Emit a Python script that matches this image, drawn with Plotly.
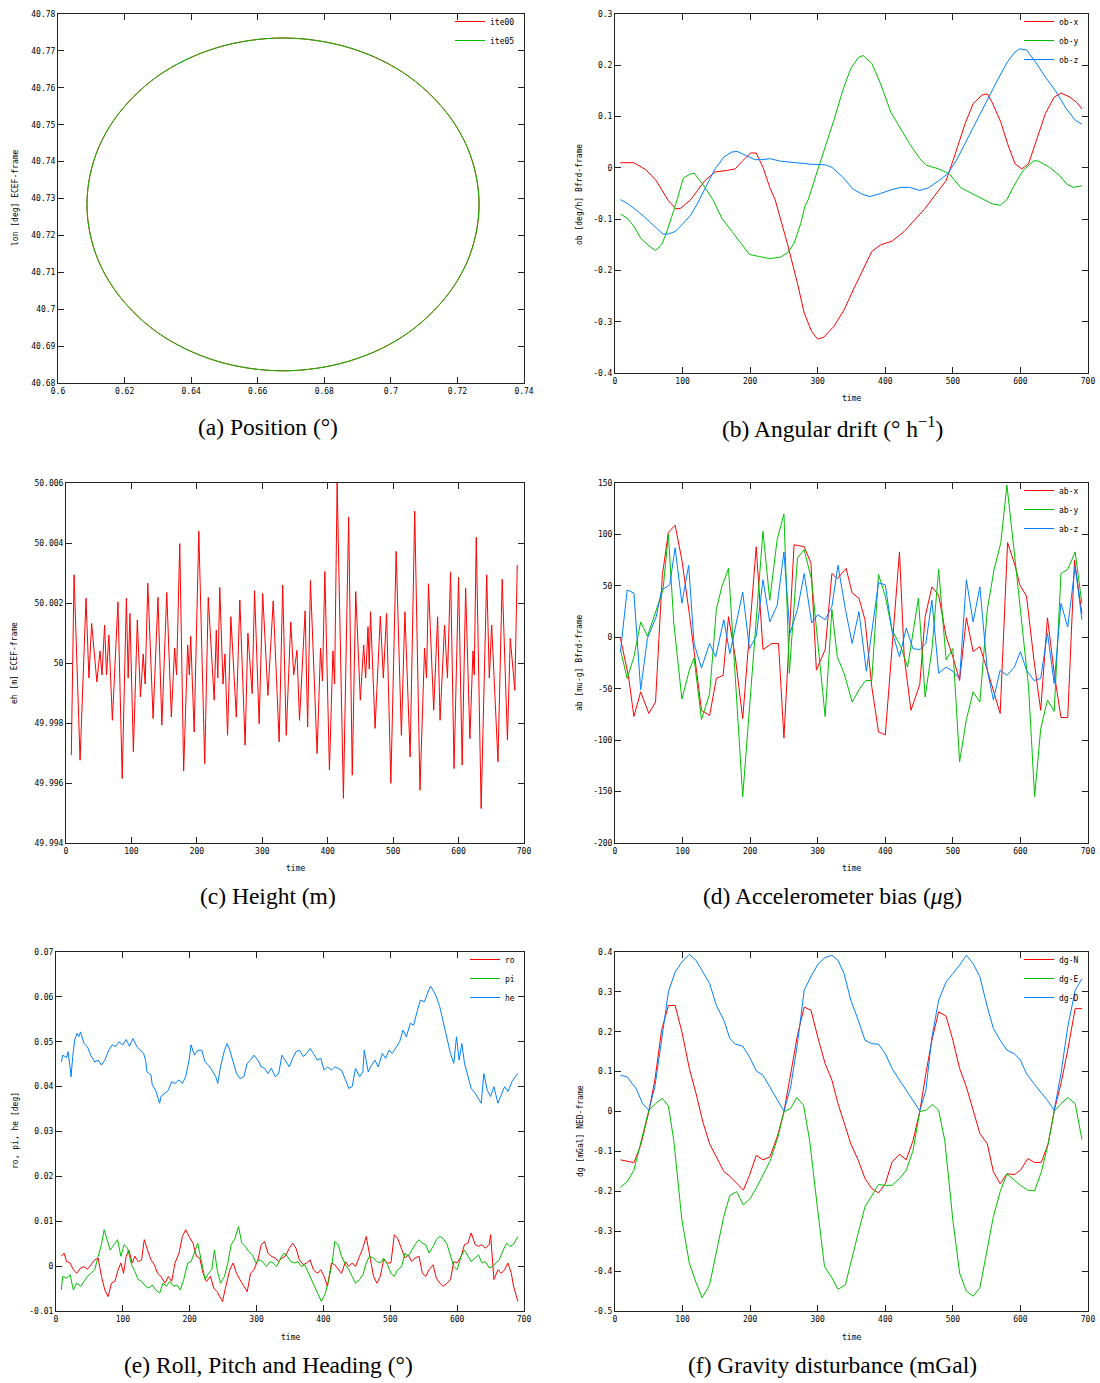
import plotly.graph_objects as go

W, H = 1100, 1383
RED, GREEN, BLUE = "#ff0000", "#00c000", "#0080ff"
MONO = "DejaVu Sans Mono"
SERIF = "Liberation Serif"

# ---------------- (a) Position ----------------
POS_X = [0.7265, 0.7256, 0.7230, 0.7186, 0.7127, 0.7055, 0.6971, 0.6877, 0.6778, 0.6676,
         0.6574, 0.6475, 0.6382, 0.6297, 0.6225, 0.6166, 0.6122, 0.6096, 0.6087, 0.6096,
         0.6122, 0.6166, 0.6225, 0.6297, 0.6382, 0.6475, 0.6574, 0.6676, 0.6778, 0.6877,
         0.6971, 0.7055, 0.7127, 0.7186, 0.7230, 0.7256, 0.7265]
POS_Y = [40.7284, 40.7362, 40.7438, 40.7510, 40.7574, 40.7630, 40.7675, 40.7708, 40.7728, 40.7735,
         40.7728, 40.7708, 40.7675, 40.7630, 40.7574, 40.7510, 40.7438, 40.7362, 40.7284, 40.7206,
         40.7130, 40.7058, 40.6994, 40.6938, 40.6893, 40.6860, 40.6840, 40.6833, 40.6840, 40.6860,
         40.6893, 40.6938, 40.6994, 40.7058, 40.7130, 40.7206, 40.7284]
POS_XTICKS = [0.6, 0.62, 0.64, 0.66, 0.68, 0.7, 0.72, 0.74]
POS_XLABELS = ["0.6", "0.62", "0.64", "0.66", "0.68", "0.7", "0.72", "0.74"]
POS_YTICKS = [40.68, 40.69, 40.70, 40.71, 40.72, 40.73, 40.74, 40.75, 40.76, 40.77, 40.78]
POS_YLABELS = ["40.68", "40.69", "40.7", "40.71", "40.72", "40.73", "40.74", "40.75", "40.76", "40.77", "40.78"]

# ---------------- common time ticks ----------------
TIME_TICKS = [0, 100, 200, 300, 400, 500, 600, 700]
TIME_LABELS = ["0", "100", "200", "300", "400", "500", "600", "700"]

# ---------------- (b) Angular drift ----------------
OBX_T = [8, 28, 46, 61, 79, 90, 97, 112, 133, 148, 166, 178, 189, 201, 209, 219, 229, 237, 255, 270,
         280, 291, 300, 309, 324, 339, 354, 367, 380, 393, 410, 428, 444, 459, 472, 490, 502, 518, 530, 543,
         551, 558, 571, 581, 592, 602, 612, 622, 637, 650, 660, 673, 683, 691]
OBX = [0.010, 0.010, -0.004, -0.025, -0.064, -0.080, -0.079, -0.062, -0.025, -0.008,
       -0.005, -0.002, 0.014, 0.029, 0.029, 0.001, -0.038, -0.062, -0.147, -0.225,
       -0.283, -0.319, -0.334, -0.330, -0.309, -0.277, -0.234, -0.199, -0.163, -0.150,
       -0.143, -0.124, -0.101, -0.079, -0.056, -0.025, 0.021, 0.086, 0.125, 0.142,
       0.144, 0.128, 0.089, 0.047, 0.008, -0.002, 0.008, 0.047, 0.106, 0.138,
       0.146, 0.138, 0.128, 0.115]
OBY_T = [8, 18, 28, 38, 51, 60, 69, 76, 84, 92, 101, 110, 117, 133, 145, 158, 173, 186, 199, 214,
         229, 245, 255, 265, 275, 281, 286, 298, 311, 324, 337, 349, 360, 367, 380, 393, 408, 423, 436, 451,
         461, 479, 495, 512, 530, 546, 558, 570, 580, 592, 604, 620, 627, 643, 658, 668, 678, 691]
OBY = [-0.090, -0.098, -0.114, -0.137, -0.153, -0.161, -0.150, -0.127, -0.095, -0.062,
       -0.020, -0.013, -0.010, -0.038, -0.062, -0.098, -0.124, -0.147, -0.169, -0.173,
       -0.177, -0.174, -0.166, -0.147, -0.108, -0.075, -0.062, -0.012, 0.040, 0.093,
       0.151, 0.194, 0.215, 0.219, 0.204, 0.164, 0.109, 0.076, 0.047, 0.018,
       0.005, -0.002, -0.012, -0.039, -0.051, -0.062, -0.070, -0.073, -0.062, -0.031,
       -0.005, 0.014, 0.013, 0.001, -0.015, -0.031, -0.038, -0.035]
OBZ_T = [8, 18, 31, 43, 56, 71, 79, 89, 99, 112, 121, 135, 148, 161, 173, 181, 194, 207, 219, 229,
         245, 260, 275, 291, 311, 321, 337, 352, 365, 377, 393, 408, 423, 436, 451, 464, 479, 492, 505, 520,
         535, 551, 566, 581, 592, 599, 609, 622, 637, 653, 668, 681, 691]
OBZ = [-0.062, -0.069, -0.082, -0.095, -0.111, -0.129, -0.129, -0.124, -0.111, -0.092,
       -0.072, -0.035, -0.002, 0.021, 0.031, 0.032, 0.024, 0.016, 0.016, 0.018,
       0.013, 0.011, 0.010, 0.007, 0.006, 0.001, -0.018, -0.041, -0.051, -0.056,
       -0.050, -0.043, -0.038, -0.038, -0.044, -0.039, -0.025, -0.012, 0.014, 0.053,
       0.093, 0.132, 0.171, 0.207, 0.226, 0.232, 0.230, 0.207, 0.177, 0.148,
       0.115, 0.093, 0.085]
OB_TICKS = [-0.4, -0.3, -0.2, -0.1, 0, 0.1, 0.2, 0.3]
OB_LABELS = ["-0.4", "-0.3", "-0.2", "-0.1", "0", "0.1", "0.2", "0.3"]

# ---------------- (c) Height ----------------
EH_T = [8.1, 12.3, 21.5, 30.6, 35.0, 39.2, 47.2, 52.0, 55.0, 59.0,
        62.0, 65.5, 70.9, 79.4, 85.9, 92.3, 95.0, 97.7, 103.0, 109.0,
        113.8, 118.0, 121.0, 125.0, 133.1, 140.6, 146.5, 154.0, 161.0, 166.0,
        169.0, 173.9, 179.8, 186.0, 188.5, 190.6, 195.9, 203.0, 212.0, 217.4,
        226.5, 229.7, 232.0, 235.0, 240.0, 243.0, 246.9, 252.0, 260.3, 265.7,
        273.8, 278.0, 284.5, 288.2, 295.2, 300.6, 308.6, 316.7, 325.8, 331.2,
        336.6, 343.5, 348.0, 353.0, 356.9, 365.5, 369.3, 373.6, 383.8, 389.0,
        392.0, 395.6, 402.6, 408.0, 410.5, 414.4, 424.0, 432.0, 437.5, 442.8,
        449.8, 455.0, 458.0, 461.6, 463.5, 465.4, 472.4, 480.4, 485.0, 490.0,
        496.5, 504.6, 512.6, 518.0, 526.0, 533.0, 541.0, 548.0, 551.0, 554.0,
        562.0, 568.0, 571.7, 578.6, 583.0, 587.8, 593.1, 600.0, 605.5, 610.8,
        617.3, 622.0, 624.0, 627.0, 634.5, 643.0, 647.0, 650.6, 660.2, 666.7,
        674.7, 679.0, 686.0, 689.7]
EH = [49.99693, 50.00294, 49.99676, 50.00216, 49.99950, 50.00132, 49.99937, 50.00040, 49.99960, 50.00126,
      49.99960, 50.00093, 49.99809, 50.00204, 49.99615, 50.00216, 49.99950, 50.00165, 49.99704, 50.00143,
      49.99887, 50.00030, 49.99930, 50.00266, 49.99815, 50.00219, 49.99793, 50.00235, 49.99820, 50.00050,
      49.99960, 50.00398, 49.99640, 50.00060, 49.99960, 50.00089, 49.99770, 50.00439, 49.99665, 50.00219,
      49.99876, 50.00109, 49.99950, 50.00252, 49.99930, 50.00030, 49.99759, 50.00154, 49.99820, 50.00210,
      49.99726, 50.00100, 49.99898, 50.00241, 49.99798, 50.00232, 49.99892, 50.00207, 49.99737, 50.00260,
      49.99759, 50.00137, 49.99960, 50.00042, 49.99809, 50.00174, 49.99787, 50.00275, 49.99698, 50.00050,
      49.99940, 50.00305, 49.99643, 50.00040, 49.99930, 50.00600, 49.99549, 50.00487, 49.99626, 50.00238,
      49.99876, 50.00060, 49.99950, 50.00121, 49.99980, 50.00171, 49.99782, 50.00156, 49.99950, 50.00165,
      49.99599, 50.00372, 49.99759, 50.00171, 49.99687, 50.00506, 49.99576, 50.00050, 49.99950, 50.00264,
      49.99843, 50.00154, 49.99809, 50.00126, 49.99950, 50.00302, 49.99648, 50.00286, 49.99660, 50.00249,
      49.99748, 50.00040, 49.99960, 50.00419, 49.99515, 50.00294, 49.99950, 50.00126, 49.99671, 50.00279,
      49.99743, 50.00082, 49.99909, 50.00327]
EH_TICKS = [49.994, 49.996, 49.998, 50.0, 50.002, 50.004, 50.006]
EH_LABELS = ["49.994", "49.996", "49.998", "50", "50.002", "50.004", "50.006"]

# ---------------- (d) Accelerometer bias ----------------
ABX_T = [8, 20, 28, 38, 50, 60, 70, 79, 89, 99, 110, 128, 140, 150, 160, 168, 178, 189, 209, 219,
         232, 242, 250, 265, 280, 290, 298, 311, 321, 329, 342, 351, 361, 370, 380, 390, 400, 421, 428, 438,
         451, 459, 469, 479, 490, 500, 510, 520, 530, 540, 551, 560, 570, 581, 592, 599, 609, 620, 630, 640,
         650, 660, 670, 680, 691]
ABX = [-1, -38, -77, -53, -74, -63, 60, 102, 109, 75, 23, -71, -76, -40, -37, 20, -19, -79, 88, -12,
       -6, -6, -98, 90, 88, 72, -32, -12, 62, 57, 67, 43, 38, 17, -48, -92, -95, 83, -19, -71,
       -46, 20, 49, 41, 1, -19, -42, 19, -14, -9, -32, -53, -74, 92, 70, 51, 40, -22, -71, 19,
       -35, -78, -78, 75, 23]
ABY_T = [8, 18, 28, 38, 48, 61, 71, 79, 87, 99, 110, 117, 128, 140, 150, 158, 168, 189, 199, 219,
         229, 240, 250, 258, 270, 280, 291, 311, 321, 329, 339, 351, 362, 371, 380, 390, 400, 410, 423, 433,
         449, 459, 469, 479, 490, 500, 510, 520, 530, 540, 551, 561, 571, 580, 591, 600, 612, 621, 630, 640,
         650, 660, 670, 681, 691]
ABY = [-12, -40, -19, 15, 1, 27, 46, 100, 14, -60, -32, -20, -80, -55, 27, 49, 67, -155, -67, 103,
       36, 95, 120, -35, 77, 85, 56, -77, 27, -19, -35, -63, -50, -42, -42, 61, 40, 7, -9, -29,
       38, -58, -12, 66, -22, -11, -121, -80, -53, -63, 27, 66, 92, 148, 82, 27, -48, -155, -89, -61,
       -72, 62, 66, 83, 33]
ABZ_T = [8, 18, 28, 38, 48, 61, 69, 81, 89, 99, 109, 117, 128, 140, 149, 161, 170, 189, 199, 209,
         219, 229, 240, 250, 259, 270, 280, 291, 300, 311, 321, 330, 341, 351, 361, 372, 390, 400, 410, 421,
         431, 441, 451, 460, 469, 479, 490, 500, 510, 520, 530, 540, 551, 560, 570, 580, 591, 600, 609, 620,
         630, 640, 650, 660, 670, 681, 691]
ABZ = [-14, 46, 43, -51, -1, 20, 46, 51, 87, 33, 70, -6, -30, -6, -19, 17, -16, 44, -11, 1,
       56, 15, 31, 83, 4, 27, 62, 14, 22, 17, 30, 70, 27, -6, 25, -33, 53, 51, 6, -19,
       9, -11, -12, -6, 36, -35, -29, -33, -40, 56, 15, 49, -32, -61, -32, -37, -29, -14, -32, -42,
       -40, 4, -45, 33, 10, 69, 17]
AB_TICKS = [-200, -150, -100, -50, 0, 50, 100, 150]
AB_LABELS = ["-200", "-150", "-100", "-50", "0", "50", "100", "150"]

# ---------------- (e) Roll, pitch, heading ----------------
RO_T = [8, 12, 16, 21, 26, 31, 37, 42, 47, 52, 58, 63, 68, 73, 78, 83, 88, 93, 97, 101,
        105, 109, 114, 118, 123, 128, 132, 136, 142, 147, 152, 157, 163, 168, 173, 178, 184, 189, 194, 199,
        205, 210, 215, 220, 225, 231, 236, 241, 249, 254, 260, 265, 270, 275, 281, 286, 291, 296, 302, 307,
        312, 317, 322, 328, 333, 338, 343, 349, 354, 359, 364, 370, 375, 380, 385, 391, 396, 401, 406, 412,
        417, 422, 427, 433, 438, 443, 448, 454, 459, 464, 469, 475, 480, 485, 490, 496, 501, 506, 511, 517,
        522, 527, 532, 537, 543, 548, 553, 558, 564, 569, 574, 579, 585, 590, 595, 600, 606, 611, 616, 621,
        627, 632, 637, 642, 648, 650, 655, 661, 666, 671, 676, 681, 684, 688, 691]
RO = [0.0022, 0.0029, 0.0010, 0.0007, -0.0008, -0.0016, -0.0004, -0.0001, -0.0007, 0.0003,
      0.0014, 0.0018, -0.0023, -0.0053, -0.0068, -0.0038, -0.0034, -0.0008, 0.0007, -0.0016,
      0.0022, 0.0036, 0.0007, 0.0022, 0.0010, 0.0014, 0.0059, 0.0040, 0.0014, 0.0003,
      -0.0016, -0.0023, -0.0038, -0.0023, -0.0034, 0.0007, 0.0029, 0.0066, 0.0081, 0.0066,
      0.0051, 0.0022, 0.0018, -0.0016, -0.0034, -0.0023, -0.0049, -0.0057, -0.0079, -0.0045,
      -0.0008, 0.0007, -0.0016, -0.0030, -0.0045, -0.0057, -0.0016, -0.0008, 0.0014, 0.0048,
      0.0055, 0.0029, 0.0022, 0.0018, 0.0010, 0.0018, 0.0022, 0.0040, 0.0051, 0.0040,
      0.0014, 0.0003, 0.0007, 0.0014, -0.0008, -0.0016, -0.0008, -0.0023, -0.0045, 0.0007,
      0.0003, -0.0008, -0.0016, 0.0010, -0.0001, 0.0007, -0.0001, 0.0022, 0.0040, 0.0066,
      0.0029, -0.0023, -0.0038, -0.0023, 0.0014, 0.0007, 0.0007, 0.0070, 0.0062, 0.0036,
      0.0018, 0.0025, 0.0010, 0.0018, 0.0022, -0.0016, -0.0023, -0.0008, 0.0003, -0.0027,
      -0.0038, -0.0045, -0.0038, -0.0030, 0.0010, 0.0007, 0.0022, 0.0048, 0.0051, 0.0074,
      0.0048, 0.0044, 0.0048, 0.0040, 0.0048, 0.0070, -0.0030, -0.0008, -0.0016, -0.0008,
      0.0007, -0.0016, -0.0042, -0.0064, -0.0079]
PI_T = [8, 10, 16, 21, 26, 31, 37, 42, 47, 52, 58, 63, 68, 72, 76, 81, 87, 92, 97, 102,
        107, 113, 118, 123, 128, 134, 139, 144, 149, 155, 160, 165, 170, 176, 181, 186, 191, 197, 202, 207,
        212, 218, 223, 228, 233, 237, 241, 246, 252, 257, 262, 267, 273, 278, 283, 288, 294, 299, 304, 309,
        315, 320, 325, 330, 336, 341, 346, 351, 357, 362, 367, 372, 378, 383, 388, 393, 397, 403, 408, 413,
        417, 422, 427, 433, 438, 443, 448, 454, 459, 464, 469, 475, 480, 485, 490, 496, 501, 506, 511, 517,
        522, 527, 532, 537, 543, 548, 553, 558, 564, 569, 574, 579, 585, 590, 595, 600, 606, 611, 616, 621,
        627, 632, 637, 642, 648, 653, 658, 663, 669, 674, 679, 684, 691]
PI = [-0.0053, -0.0023, -0.0027, -0.0019, -0.0053, -0.0038, -0.0045, -0.0034, -0.0023, -0.0016,
      -0.0008, 0.0022, 0.0048, 0.0081, 0.0059, 0.0036, 0.0048, 0.0059, 0.0022, 0.0048,
      0.0040, 0.0003, -0.0012, -0.0030, -0.0034, -0.0045, -0.0049, -0.0042, -0.0053, -0.0060,
      -0.0038, -0.0045, -0.0034, -0.0045, -0.0042, -0.0053, -0.0030, 0.0007, 0.0010, 0.0029,
      0.0051, 0.0007, -0.0030, -0.0016, -0.0008, 0.0036, -0.0008, -0.0038, -0.0023, 0.0007,
      0.0048, 0.0059, 0.0088, 0.0051, 0.0044, 0.0033, 0.0025, 0.0007, 0.0014, 0.0010,
      -0.0001, 0.0010, 0.0007, -0.0001, 0.0018, 0.0029, 0.0022, 0.0010, 0.0007, 0.0010,
      -0.0001, 0.0003, -0.0016, -0.0034, -0.0049, -0.0064, -0.0079, -0.0060, -0.0030, 0.0007,
      0.0055, 0.0048, 0.0022, 0.0003, -0.0008, -0.0023, -0.0038, -0.0030, -0.0019, 0.0007,
      0.0022, 0.0018, 0.0010, 0.0007, 0.0018, 0.0003, -0.0016, -0.0023, -0.0008, -0.0001,
      0.0029, 0.0022, 0.0036, 0.0048, 0.0059, 0.0051, 0.0048, 0.0029, 0.0044, 0.0059,
      0.0066, 0.0062, 0.0048, 0.0025, -0.0001, -0.0008, 0.0022, 0.0036, 0.0022, 0.0010,
      0.0018, 0.0025, 0.0007, 0.0010, -0.0004, -0.0001, 0.0007, 0.0014, 0.0036, 0.0051,
      0.0044, 0.0048, 0.0066]
HE_T = [8, 10, 16, 18, 21, 22.5, 25, 28, 31.5, 34, 36.7, 42, 47, 52, 58, 63, 68, 73, 79, 84,
        89, 94, 100, 105, 110, 115, 121, 126, 131, 134, 136, 142, 144, 149, 155, 157, 163, 168, 173, 178,
        184, 189, 194, 199, 202, 207, 212, 218, 223, 228, 233, 239, 242, 246, 252, 256, 260, 265, 270, 275,
        281, 286, 291, 296, 302, 307, 312, 317, 322, 328, 333, 338, 343, 349, 354, 359, 364, 370, 375, 380,
        385, 391, 396, 401, 406, 412, 417, 422, 427, 433, 438, 443, 448, 454, 459, 461, 467, 472, 477, 482,
        488, 493, 498, 503, 509, 514, 519, 524, 530, 535, 540, 545, 551, 556, 560, 564, 569, 574, 579, 585,
        590, 595, 599, 603, 607, 611, 616, 621, 627, 632, 636, 640, 645, 650, 655, 661, 666, 671, 676, 682,
        687, 691]
HE = [0.0455, 0.0470, 0.0465, 0.0478, 0.0444, 0.0422, 0.0467, 0.0504, 0.0519, 0.0511,
      0.0522, 0.0496, 0.0489, 0.0470, 0.0455, 0.0459, 0.0448, 0.0459, 0.0481, 0.0493,
      0.0489, 0.0500, 0.0493, 0.0505, 0.0490, 0.0507, 0.0489, 0.0481, 0.0474, 0.0459,
      0.0433, 0.0426, 0.0404, 0.0392, 0.0363, 0.0378, 0.0385, 0.0392, 0.0411, 0.0407,
      0.0415, 0.0407, 0.0422, 0.0459, 0.0493, 0.0470, 0.0481, 0.0481, 0.0455, 0.0448,
      0.0437, 0.0422, 0.0407, 0.0444, 0.0481, 0.0496, 0.0481, 0.0452, 0.0429, 0.0418,
      0.0422, 0.0452, 0.0459, 0.0470, 0.0459, 0.0444, 0.0441, 0.0429, 0.0441, 0.0422,
      0.0429, 0.0470, 0.0459, 0.0444, 0.0463, 0.0478, 0.0481, 0.0467, 0.0474, 0.0485,
      0.0474, 0.0459, 0.0463, 0.0437, 0.0444, 0.0437, 0.0444, 0.0441, 0.0437, 0.0415,
      0.0396, 0.0400, 0.0441, 0.0422, 0.0433, 0.0481, 0.0433, 0.0448, 0.0459, 0.0444,
      0.0474, 0.0463, 0.0481, 0.0474, 0.0489, 0.0500, 0.0526, 0.0511, 0.0541, 0.0537,
      0.0567, 0.0593, 0.0589, 0.0608, 0.0624, 0.0615, 0.0600, 0.0578, 0.0545, 0.0504,
      0.0474, 0.0452, 0.0511, 0.0459, 0.0496, 0.0452, 0.0426, 0.0396, 0.0385, 0.0374,
      0.0363, 0.0429, 0.0392, 0.0378, 0.0400, 0.0363, 0.0381, 0.0400, 0.0389, 0.0411,
      0.0422, 0.0429]
ATT_TICKS = [-0.01, 0, 0.01, 0.02, 0.03, 0.04, 0.05, 0.06, 0.07]
ATT_LABELS = ["-0.01", "0", "0.01", "0.02", "0.03", "0.04", "0.05", "0.06", "0.07"]

# ---------------- (f) Gravity disturbance ----------------
DGN_T = [8, 18, 28, 38, 50, 59, 69, 79, 89, 99, 110, 120, 130, 140, 150, 161, 171, 181, 190, 199,
         209, 219, 229, 240, 250, 260, 270, 280, 290, 300, 311, 321, 330, 341, 349, 360, 370, 380, 390, 400,
         410, 421, 431, 441, 451, 460, 469, 479, 490, 500, 510, 520, 530, 540, 551, 560, 570, 580, 591, 600,
         611, 621, 631, 641, 650, 660, 670, 681, 691]
DGN = [-0.121, -0.124, -0.128, -0.085, -0.001, 0.079, 0.204, 0.266, 0.266, 0.200,
       0.108, 0.045, -0.026, -0.081, -0.114, -0.150, -0.164, -0.181, -0.197, -0.160,
       -0.110, -0.121, -0.114, -0.064, -0.001, 0.095, 0.191, 0.262, 0.254, 0.187,
       0.120, 0.079, 0.020, -0.038, -0.081, -0.122, -0.168, -0.193, -0.204, -0.181,
       -0.127, -0.107, -0.121, -0.073, 0.000, 0.095, 0.179, 0.250, 0.239, 0.179,
       0.108, 0.062, 0.003, -0.055, -0.081, -0.151, -0.181, -0.156, -0.158, -0.147,
       -0.118, -0.128, -0.127, -0.081, 0.002, 0.070, 0.154, 0.258, 0.258]
DGE_T = [8, 18, 28, 38, 50, 60, 70, 79, 87, 99, 110, 120, 129, 140, 150, 161, 170, 180, 190, 200,
         210, 220, 230, 241, 250, 260, 269, 279, 288, 300, 310, 321, 330, 341, 351, 361, 370, 380, 390, 400,
         410, 421, 431, 441, 451, 460, 470, 479, 488, 500, 510, 520, 530, 540, 551, 560, 570, 580, 591, 600,
         611, 621, 631, 641, 650, 660, 670, 681, 691]
DGE = [-0.190, -0.176, -0.147, -0.081, 0.003, 0.020, 0.033, 0.014, -0.072, -0.272,
       -0.380, -0.429, -0.467, -0.434, -0.355, -0.263, -0.210, -0.201, -0.234, -0.218,
       -0.189, -0.156, -0.122, -0.064, -0.001, 0.008, 0.035, 0.016, -0.072, -0.247,
       -0.388, -0.417, -0.446, -0.434, -0.363, -0.297, -0.239, -0.210, -0.183, -0.185,
       -0.185, -0.168, -0.147, -0.098, 0.000, 0.003, 0.018, 0.003, -0.072, -0.272,
       -0.405, -0.450, -0.463, -0.442, -0.346, -0.263, -0.201, -0.156, -0.172, -0.185,
       -0.197, -0.199, -0.151, -0.081, 0.000, 0.020, 0.035, 0.020, -0.070]
DGD_T = [8, 18, 31, 41, 50, 59, 69, 79, 89, 99, 110, 120, 130, 140, 150, 161, 170, 178, 189, 199,
         209, 219, 229, 240, 250, 260, 270, 280, 291, 301, 311, 321, 330, 339, 349, 360, 370, 380, 390, 400,
         410, 421, 431, 441, 451, 460, 469, 479, 490, 500, 510, 520, 530, 540, 551, 560, 570, 580, 591, 600,
         609, 620, 630, 640, 650, 660, 670, 681, 691]
DGD = [0.091, 0.087, 0.058, 0.020, 0.003, 0.062, 0.179, 0.300, 0.350, 0.375,
       0.394, 0.379, 0.350, 0.321, 0.266, 0.229, 0.183, 0.169, 0.164, 0.137,
       0.102, 0.091, 0.062, 0.030, 0.001, 0.062, 0.170, 0.304, 0.342, 0.371,
       0.386, 0.392, 0.379, 0.346, 0.279, 0.229, 0.179, 0.170, 0.169, 0.145,
       0.108, 0.079, 0.053, 0.028, 0.002, 0.053, 0.187, 0.279, 0.325, 0.346,
       0.367, 0.392, 0.371, 0.338, 0.262, 0.208, 0.179, 0.154, 0.145, 0.129,
       0.095, 0.070, 0.049, 0.028, 0.003, 0.095, 0.212, 0.304, 0.333]
DG_TICKS = [-0.5, -0.4, -0.3, -0.2, -0.1, 0, 0.1, 0.2, 0.3, 0.4]
DG_LABELS = ["-0.5", "-0.4", "-0.3", "-0.2", "-0.1", "0", "0.1", "0.2", "0.3", "0.4"]

# ---------------- layout geometry (pixels) ----------------
PANELS = [  # left, right, top, bottom
    (58, 524, 14, 383),
    (615, 1088, 14, 373),
    (66, 524, 483, 843),
    (615, 1088, 483, 843),
    (56, 524, 952, 1311),
    (615, 1088, 952, 1311),
]
HAS_LEGEND = [True, True, False, True, True, True]


def fx(p):
    return p / W


def fy(p):
    return 1 - p / H


fig = go.Figure()


def add(panel, x, y, name, color, shape="linear"):
    sx = "" if panel == 1 else str(panel)
    show = HAS_LEGEND[panel - 1]
    kw = dict(legend="legend" + sx) if show else {}
    fig.add_trace(go.Scatter(
        x=x, y=y, name=name, mode="lines",
        line=dict(color=color, width=1, shape=shape),
        xaxis="x" + sx, yaxis="y" + sx, showlegend=show,
        hoverinfo="skip", **kw))


add(1, POS_X, POS_Y, "ite00", RED, "spline")
add(1, POS_X, POS_Y, "ite05", GREEN, "spline")
add(2, OBX_T, OBX, "ob-x", RED)
add(2, OBY_T, OBY, "ob-y", GREEN)
add(2, OBZ_T, OBZ, "ob-z", BLUE)
add(3, EH_T, EH, "eh", RED)
add(4, ABX_T, ABX, "ab-x", RED)
add(4, ABY_T, ABY, "ab-y", GREEN)
add(4, ABZ_T, ABZ, "ab-z", BLUE)
add(5, RO_T, RO, "ro", RED)
add(5, PI_T, PI, "pi", GREEN)
add(5, HE_T, HE, "he", BLUE)
add(6, DGN_T, DGN, "dg-N", RED)
add(6, DGE_T, DGE, "dg-E", GREEN)
add(6, DGD_T, DGD, "dg-D", BLUE)

TICKFONT = dict(family=MONO, size=8, color="#000")


def axis(dom, rng, tv, tt, anchor):
    return dict(domain=dom, range=rng, anchor=anchor, tickvals=tv, ticktext=tt,
                ticks="inside", ticklen=6, tickwidth=1, tickcolor="#222",
                showline=True, linecolor="#222", linewidth=1, mirror="ticks",
                showgrid=False, zeroline=False, tickfont=TICKFONT, fixedrange=True,
                automargin=False)


AXES = [
    ([0.6, 0.74], POS_XTICKS, POS_XLABELS, [40.68, 40.78], POS_YTICKS, POS_YLABELS),
    ([0, 700], TIME_TICKS, TIME_LABELS, [-0.4, 0.3], OB_TICKS, OB_LABELS),
    ([0, 700], TIME_TICKS, TIME_LABELS, [49.994, 50.006], EH_TICKS, EH_LABELS),
    ([0, 700], TIME_TICKS, TIME_LABELS, [-200, 150], AB_TICKS, AB_LABELS),
    ([0, 700], TIME_TICKS, TIME_LABELS, [-0.01, 0.07], ATT_TICKS, ATT_LABELS),
    ([0, 700], TIME_TICKS, TIME_LABELS, [-0.5, 0.4], DG_TICKS, DG_LABELS),
]

layout = dict(width=W, height=H, autosize=False,
              margin=dict(l=0, r=0, t=0, b=0, pad=0, autoexpand=False),
              paper_bgcolor="white", plot_bgcolor="white", showlegend=True)

for i, ((l, r, t, b), (xr, xtv, xtt, yr, ytv, ytt)) in enumerate(zip(PANELS, AXES), start=1):
    sx = "" if i == 1 else str(i)
    layout["xaxis" + sx] = axis([fx(l), fx(r)], xr, xtv, xtt, "y" + sx)
    layout["yaxis" + sx] = axis([fy(b), fy(t)], yr, ytv, ytt, "x" + sx)
    if HAS_LEGEND[i - 1]:
        layout["legend" + sx] = dict(x=fx(r - 4), y=fy(t - 7), xanchor="right", yanchor="top",
                                     bgcolor="rgba(0,0,0,0)", borderwidth=0,
                                     font=dict(family=MONO, size=8, color="#000"),
                                     itemwidth=30, tracegroupgap=0)

annotations = []


def note(x, y, text, size=8, family=MONO, angle=0):
    annotations.append(dict(x=fx(x), y=fy(y), xref="paper", yref="paper", text=text,
                            showarrow=False, xanchor="center", yanchor="middle",
                            textangle=angle, font=dict(family=family, size=size, color="#000")))


# y-axis titles
note(15, 198, "lon [deg] ECEF-frame", angle=-90)
note(580, 195, "ob [deg/h] Bfrd-frame", angle=-90)
note(15, 663, "eh [m] ECEF-frame", angle=-90)
note(580, 663, "ab [mu-g] Bfrd-frame", angle=-90)
note(15, 1131, "ro, pi, he [deg]", angle=-90)
note(580, 1131, "dg [mGal] NED-frame", angle=-90)
# x-axis titles
note(851, 398, "time")
note(295, 868, "time")
note(851, 868, "time")
note(290, 1337, "time")
note(851, 1337, "time")
# captions
CAP = 23.5
note(268, 427, "(a) Position (°)", CAP, SERIF)
note(832, 427, "(b) Angular drift (° h<sup>−1</sup>)", CAP, SERIF)
note(268, 896, "(c) Height (m)", CAP, SERIF)
note(832, 896, "(d) Accelerometer bias (<i>μ</i>g)", CAP, SERIF)
note(268, 1365, "(e) Roll, Pitch and Heading (°)", CAP, SERIF)
note(832, 1365, "(f) Gravity disturbance (mGal)", CAP, SERIF)

layout["annotations"] = annotations
fig.update_layout(**layout)
fig.write_html(
    "out.html",
    config={"displayModeBar": False, "responsive": False, "staticPlot": True},
    post_script=("document.documentElement.style.margin='0';"
                 "document.documentElement.style.padding='0';"
                 "document.documentElement.style.overflow='hidden';"
                 "document.body.style.margin='0';"
                 "document.body.style.padding='0';"
                 "document.body.style.overflow='hidden';"),
)
